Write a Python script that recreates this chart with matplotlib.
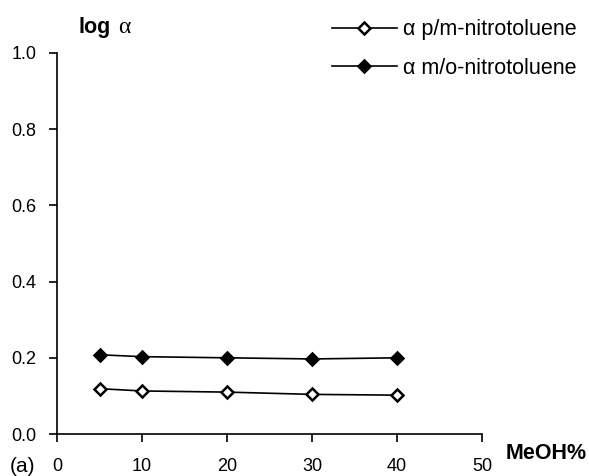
"""log alpha of nitrotoluene isomers against methanol content."""

import matplotlib.pyplot as plt

plt.rcParams["font.family"] = ["Liberation Sans", "DejaVu Sans"]

# data
meoh = [5, 10, 20, 30, 40]
alpha_pm = [0.119, 0.113, 0.110, 0.104, 0.102]
alpha_mo = [0.208, 0.203, 0.200, 0.197, 0.200]
xticks = [0, 10, 20, 30, 40, 50]
yticks = [0.0, 0.2, 0.4, 0.6, 0.8, 1.0]

fig = plt.figure(figsize=(5.89, 4.76), dpi=100)
ax = fig.add_axes([0.0968, 0.0882, 0.7215, 0.8005])

ax.plot(meoh, alpha_pm, color="black", lw=1.2, marker="D", ms=6,
        mfc="white", mec="black", mew=1.8, label="α p/m-nitrotoluene")
ax.plot(meoh, alpha_mo, color="black", lw=1.2, marker="D", ms=6,
        mfc="black", mec="black", mew=1.8, label="α m/o-nitrotoluene")

ax.set_xlim(0, 50)
ax.set_ylim(0, 1.0)
ax.set_xticks(xticks)
ax.set_yticks(yticks)
ax.set_yticklabels([f"{v:.1f}" for v in yticks])
ax.spines["top"].set_visible(False)
ax.spines["right"].set_visible(False)
for s in ("left", "bottom"):
    ax.spines[s].set_linewidth(1.2)
ax.tick_params(direction="out", length=6, width=1.2, labelsize=13)
ax.tick_params(axis="x", pad=11)
ax.tick_params(axis="y", pad=9)

# labels placed like the original figure
fig.text(0.134, 0.943, "log", fontsize=15.5, fontweight="bold", va="center")
fig.text(0.200, 0.943, "α", fontsize=17, family="Liberation Serif", va="center")
fig.text(0.859, 0.048, "MeOH%", fontsize=15.5, fontweight="bold", va="center")
fig.text(0.017, 0.019, "(a)", fontsize=15, va="center")

fig.legend(loc="upper left", bbox_to_anchor=(0.5637, 0.9595), frameon=False,
           fontsize=15.5, handlelength=3.0, handletextpad=0.28,
           labelspacing=0.8, borderpad=0, borderaxespad=0)

fig.savefig("out.png", dpi=100)
